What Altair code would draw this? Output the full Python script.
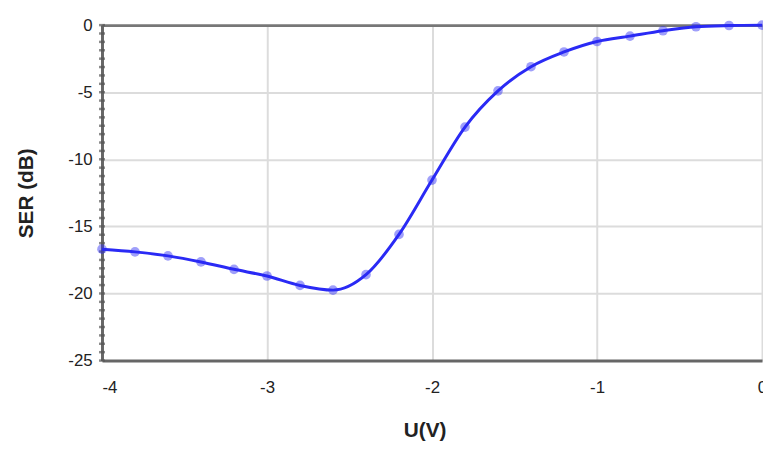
import altair as alt
import pandas as pd

u_values = [-4.0, -3.8, -3.6, -3.4, -3.2, -3.0, -2.8, -2.6, -2.4, -2.2, -2.0,
            -1.8, -1.6, -1.4, -1.2, -1.0, -0.8, -0.6, -0.4, -0.2, 0.0]
ser_values = [-16.7, -16.9, -17.2, -17.65, -18.2, -18.7, -19.4, -19.75, -18.6, -15.6, -11.55,
              -7.6, -4.9, -3.1, -2.0, -1.22, -0.82, -0.42, -0.12, -0.03, 0.0]
x_ticks = [-4, -3, -2, -1, 0]
y_ticks = [-25 + 0.625 * i for i in range(41)]

df = pd.DataFrame({"U": u_values, "SER": ser_values})
minor = pd.DataFrame({"t": y_ticks})

FONT = "Liberation Sans"
BLUE = "#2a2af5"

y_scale = alt.Scale(domain=[-25, 0], nice=False, zero=False)

x_enc = alt.X(
    "U:Q",
    scale=alt.Scale(domain=[-4, 0], nice=False, zero=False),
    axis=alt.Axis(
        title="U(V)", values=x_ticks,
        labelExpr="datum.value < 0 ? '-' + format(-datum.value, 'd') : '0'",
        labelFont=FONT, labelFontSize=17, labelColor="#222",
        labelAlign={"condition": {"test": "datum.value == -4", "value": "left"}, "value": "center"},
        labelPadding=19, ticks=False,
        domainColor="#666", domainWidth=3,
        gridColor="#dcdcdc", gridWidth=2,
        titleFont=FONT, titleFontSize=21, titleFontWeight="bold", titleColor="#222",
        titleBaseline="alphabetic", titleY=77, titleX=326, titleAlign="center",
    ),
)
y_enc = alt.Y(
    "SER:Q",
    scale=y_scale,
    axis=alt.Axis(
        title="SER (dB)", values=[-25, -20, -15, -10, -5, 0],
        labelExpr="datum.value < 0 ? '-' + format(-datum.value, 'd') : '0'",
        labelFont=FONT, labelFontSize=17, labelColor="#222", labelPadding=10,
        ticks=False,
        domainColor="#666", domainWidth=3,
        gridColor={"condition": {"test": "datum.value == 0", "value": "#777"}, "value": "#dcdcdc"},
        gridWidth={"condition": {"test": "datum.value == 0", "value": 3}, "value": 2},
        titleFont=FONT, titleFontSize=21, titleFontWeight="bold", titleColor="#222",
        titleBaseline="alphabetic", titleX=-70, titleAngle=-90,
    ),
)

line = alt.Chart(df).mark_line(color=BLUE, strokeWidth=3, interpolate="monotone").encode(x=x_enc, y=y_enc)
pts = alt.Chart(df).mark_circle(color=BLUE, size=95, opacity=0.45).encode(x="U:Q", y="SER:Q")
ticks = alt.Chart(minor).mark_tick(orient="horizontal", color="#555", size=6, thickness=2.5).encode(
    y=alt.Y("t:Q", scale=y_scale), x=alt.value(0)
)

chart = (ticks + line + pts).properties(
    width=667, height=339,
    autosize=alt.AutoSizeParams(type="none"),
    padding={"left": 95, "top": 15, "right": 1, "bottom": 80},
).configure_view(stroke=None)

chart.save("out.html", embed_options={"renderer": "svg", "actions": False})
